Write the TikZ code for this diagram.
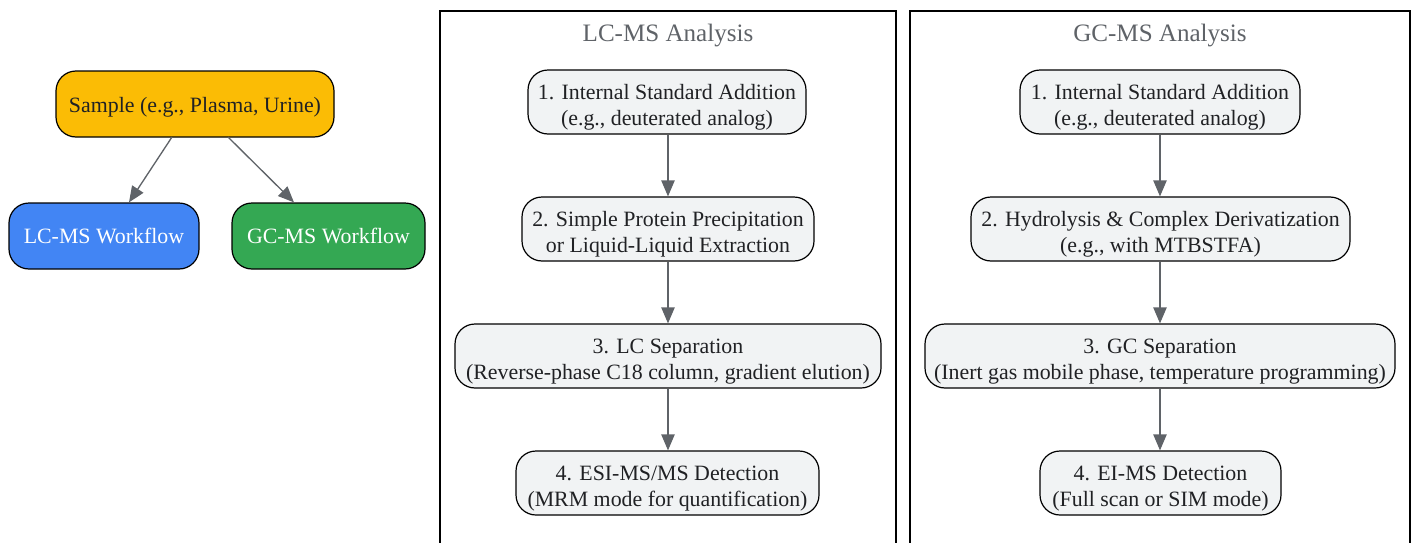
\documentclass[tikz,border=0pt]{standalone}
\usepackage{fontspec}
\setmainfont{Liberation Serif}
\usetikzlibrary{arrows.meta}
\definecolor{edgegray}{HTML}{5F6368}
\definecolor{txtdark}{HTML}{202124}
\definecolor{samplefill}{HTML}{FBBC05}
\definecolor{lcfill}{HTML}{4285F4}
\definecolor{gcfill}{HTML}{34A853}
\definecolor{stepfill}{HTML}{F1F3F4}
\tikzset{
  basebox/.style={draw=black, line width=0.9pt, rounded corners=15pt, align=center,
    inner sep=0pt, font=\fontsize{16.4}{19.5}\selectfont},
  samplebox/.style={basebox, fill=samplefill, text=txtdark, text height=17pt, text depth=3.6pt},
  lcbox/.style={basebox, fill=lcfill, text=white},
  gcbox/.style={basebox, fill=gcfill, text=white},
  stepbox/.style={basebox, fill=stepfill, text=txtdark, text height=38.5pt, text depth=4pt},
  conn/.style={draw=edgegray, line width=1pt, -{Triangle[length=12pt,width=10pt]}},
  clusterline/.style={draw=black, line width=0.8pt},
  clustertitle/.style={text=edgegray, font=\fontsize{18.8}{22}\selectfont},
}
\begin{document}
\begin{tikzpicture}[x=0.75pt, y=-0.75pt]
\useasboundingbox (0,0) rectangle (1415,543);
\clip (0,0) rectangle (1415,543);
% clusters
\draw[clusterline] (440,560) -- (440,11) -- (896,11) -- (896,560);
\draw[clusterline] (910,560) -- (910,11) -- (1410,11) -- (1410,560);
\node[clustertitle] (lctitle) at (668,36) {LC-MS Analysis};
\node[clustertitle] (gctitle) at (1160,36) {GC-MS Analysis};
% left nodes
\node[samplebox, minimum width=278*0.75pt, minimum height=66*0.75pt] (sample) at (195,104) {Sample (e.g., Plasma, Urine)};
\node[lcbox, minimum width=190*0.75pt, minimum height=66*0.75pt] (lcw) at (104,236) {LC-MS Workflow};
\node[gcbox, minimum width=193*0.75pt, minimum height=66*0.75pt] (gcw) at (328.5,236) {GC-MS Workflow};
\coordinate (s1) at (172,137);
\coordinate (s2) at (228,137);
\draw[conn] (s1) -- (lcw.north -| 129,0);
\draw[conn] (s2) -- (gcw.north -| 294,0);
% LC steps
\node[stepbox, minimum width=278*0.75pt, minimum height=64*0.75pt] (lc1) at (667,102) {1. Internal Standard Addition\\(e.g., deuterated analog)};
\node[stepbox, minimum width=292*0.75pt, minimum height=64*0.75pt] (lc2) at (668,229) {2. Simple Protein Precipitation\\or Liquid-Liquid Extraction};
\node[stepbox, minimum width=426*0.75pt, minimum height=64*0.75pt] (lc3) at (668,356) {3. LC Separation\\(Reverse-phase C18 column, gradient elution)};
\node[stepbox, minimum width=303*0.75pt, minimum height=64*0.75pt] (lc4) at (667.5,483) {4. ESI-MS/MS Detection\\(MRM mode for quantification)};
\draw[conn] (lc1.south -| 668,0) -- (lc2.north -| 668,0);
\draw[conn] (lc2.south -| 668,0) -- (lc3.north -| 668,0);
\draw[conn] (lc3.south -| 668,0) -- (lc4.north -| 668,0);
% GC steps
\node[stepbox, minimum width=280*0.75pt, minimum height=64*0.75pt] (gc1) at (1160,102) {1. Internal Standard Addition\\(e.g., deuterated analog)};
\node[stepbox, minimum width=379*0.75pt, minimum height=64*0.75pt] (gc2) at (1160.5,229) {2. Hydrolysis \& Complex Derivatization\\(e.g., with MTBSTFA)};
\node[stepbox, minimum width=470*0.75pt, minimum height=64*0.75pt] (gc3) at (1160,356) {3. GC Separation\\(Inert gas mobile phase, temperature programming)};
\node[stepbox, minimum width=241*0.75pt, minimum height=64*0.75pt] (gc4) at (1160.5,483) {4. EI-MS Detection\\(Full scan or SIM mode)};
\draw[conn] (gc1.south -| 1160,0) -- (gc2.north -| 1160,0);
\draw[conn] (gc2.south -| 1160,0) -- (gc3.north -| 1160,0);
\draw[conn] (gc3.south -| 1160,0) -- (gc4.north -| 1160,0);
\end{tikzpicture}
\end{document}
